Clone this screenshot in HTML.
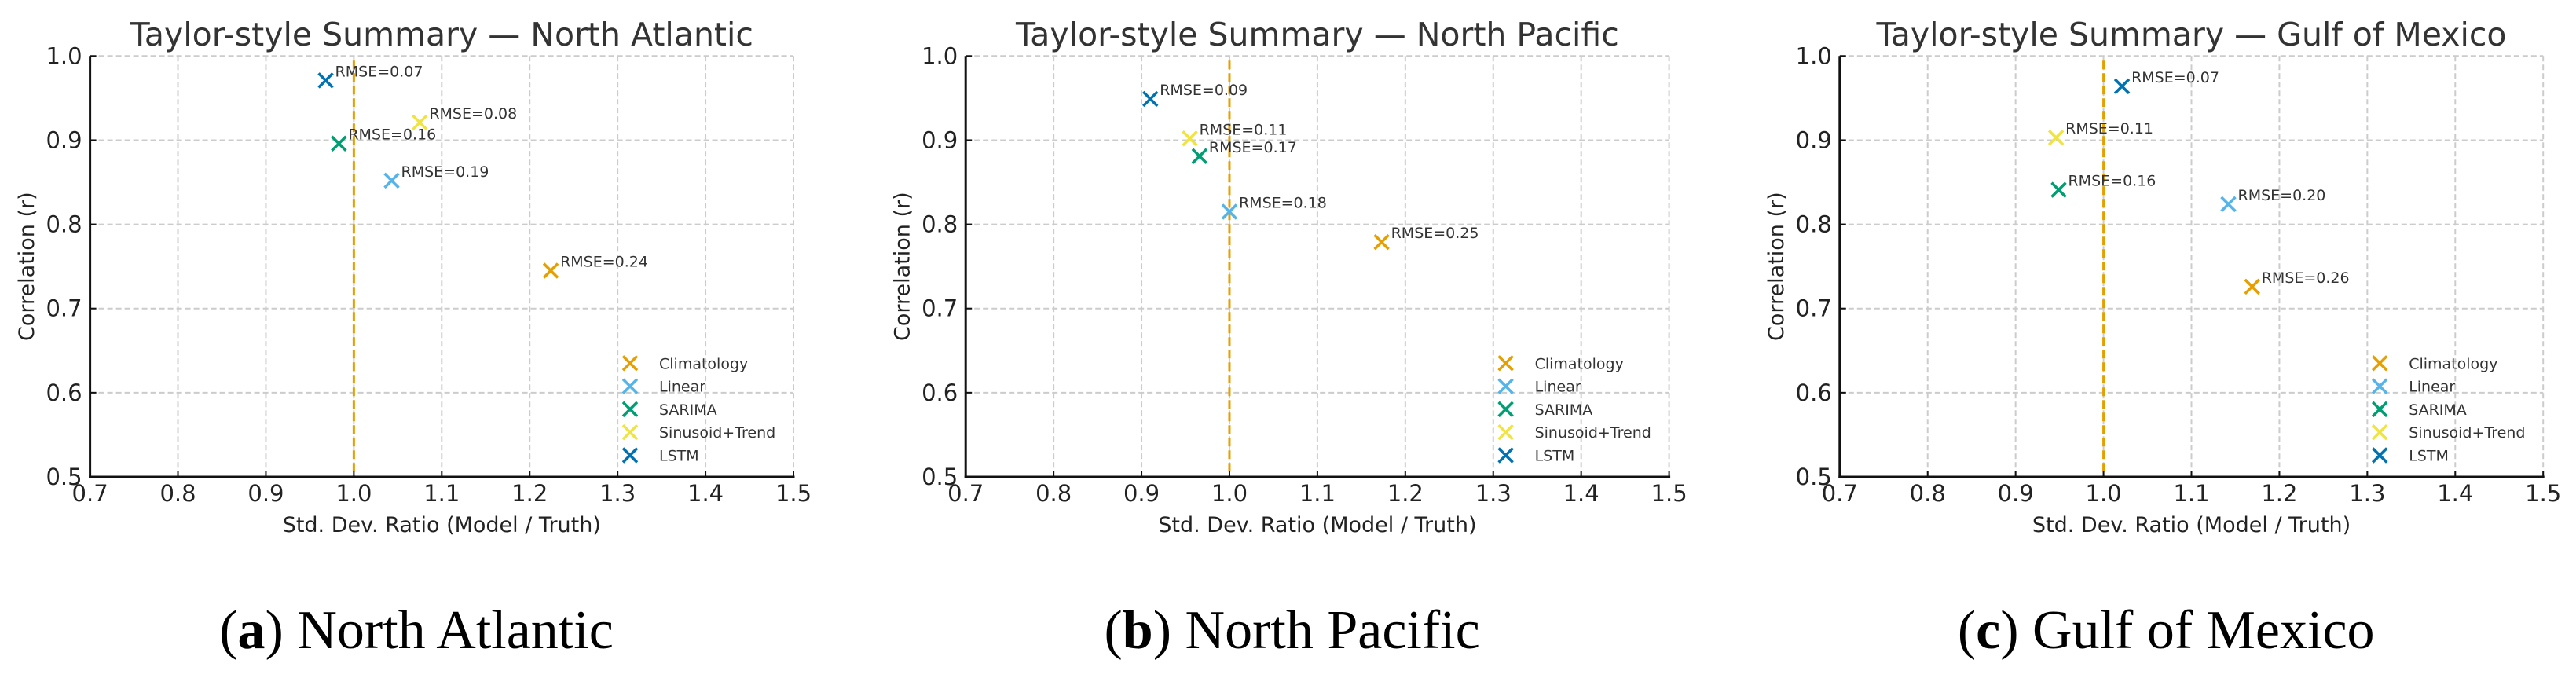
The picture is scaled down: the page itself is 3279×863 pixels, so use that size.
<!DOCTYPE html>
<html><head><meta charset="utf-8">
<style>
html,body{margin:0;padding:0;background:#fff;}
svg{display:block;}
text{font-family:"DejaVu Sans","Liberation Sans",sans-serif;}
.cap{font-family:"Liberation Serif",serif;}
</style></head>
<body>
<svg id="chart" width="3279" height="863" viewBox="0 0 3279 863" xmlns="http://www.w3.org/2000/svg"></svg>
<script>
const models = ["Climatology","Linear","SARIMA","Sinusoid+Trend","LSTM"];
const colors = ["#E69F00","#56B4E9","#009E73","#F0E442","#0072B2"];
const regions = ["North Atlantic","North Pacific","Gulf of Mexico"];
const captionLetters = ["a","b","c"];
const stdA = [1.224,1.043,0.983,1.075,0.968];
const corrA = [0.745,0.852,0.896,0.921,0.971];
const rmseA = ["0.24","0.19","0.16","0.08","0.07"];
const stdB = [1.173,1.000,0.966,0.955,0.910];
const corrB = [0.779,0.815,0.881,0.902,0.949];
const rmseB = ["0.25","0.18","0.17","0.11","0.09"];
const stdC = [1.169,1.142,0.949,0.946,1.021];
const corrC = [0.726,0.824,0.841,0.903,0.964];
const rmseC = ["0.26","0.20","0.16","0.11","0.07"];
const xTicks = [0.7,0.8,0.9,1.0,1.1,1.2,1.3,1.4,1.5];
const yTicks = [0.5,0.6,0.7,0.8,0.9,1.0];

const NS="http://www.w3.org/2000/svg";
const svg=document.getElementById('chart');
function mk(tag,attrs,parent){const e=document.createElementNS(NS,tag);for(const k in attrs)e.setAttribute(k,attrs[k]);(parent||svg).appendChild(e);return e;}

const offsets=[0,1114.6,2227.2];
const stds=[stdA,stdB,stdC], corrs=[corrA,corrB,corrC], rmses=[rmseA,rmseB,rmseC];
const X0=114.6, X1=1010, Y0=607, Y1=71.3;

for(let p=0;p<3;p++){
  const off=offsets[p];
  const g=mk('g',{});
  
  
  const sx=v=>off+X0+(v-0.7)/(1.5-0.7)*(X1-X0);
  const sy=v=>Y0-(v-0.5)/(1.0-0.5)*(Y0-Y1);
  // grid
  xTicks.forEach(t=>{
    const l=mk('line',{x1:sx(t),x2:sx(t),y1:Y1,y2:Y0,stroke:'#cccccc','stroke-width':2,'stroke-dasharray':'7,4'},g);
    
    
  });
  yTicks.forEach(t=>{
    const l=mk('line',{x1:sx(0.7),x2:sx(1.5),y1:sy(t),y2:sy(t),stroke:'#cccccc','stroke-width':2,'stroke-dasharray':'7,4'},g);
    
    
  });
  // reference line
  const ref=mk('line',{x1:sx(1.0),x2:sx(1.0),y1:Y1+6,y2:Y0,stroke:'#E69F00','stroke-width':3,'stroke-dasharray':'11,5'},g);
  
  
  // axes
  const ya=mk('line',{x1:sx(0.7),x2:sx(0.7),y1:Y1,y2:Y0+1.5,stroke:'#111','stroke-width':3},g);
  
  
  const xa=mk('line',{x1:sx(0.7)-1.5,x2:sx(1.5)+1.5,y1:Y0,y2:Y0,stroke:'#111','stroke-width':3},g);
  
  
  xTicks.forEach(t=>{
    mk('line',{x1:sx(t),x2:sx(t),y1:Y0,y2:Y0-8,stroke:'#111','stroke-width':2},g);
    const tx=mk('text',{x:sx(t),y:Y0+31,'font-size':29,'text-anchor':'middle',fill:'#222'},g);
    tx.textContent=t.toFixed(1);
    
    
  });
  yTicks.forEach(t=>{
    mk('line',{x1:sx(0.7),x2:sx(0.7)+8,y1:sy(t),y2:sy(t),stroke:'#111','stroke-width':2},g);
    const tx=mk('text',{x:sx(0.7)-10,y:sy(t)+10,'font-size':29,'text-anchor':'end',fill:'#222'},g);
    tx.textContent=t.toFixed(1);
    
    
  });
  // title
  const ti=mk('text',{x:(sx(0.7)+sx(1.5))/2,y:58,'font-size':41,'text-anchor':'middle',fill:'#333'},g);
  ti.textContent='Taylor-style Summary — '+regions[p];
  
  
  const xl=mk('text',{x:(sx(0.7)+sx(1.5))/2,y:677,'font-size':27,'text-anchor':'middle',fill:'#222'},g);
  xl.textContent='Std. Dev. Ratio (Model / Truth)';
  
  
  const yx=off+43, yy=(Y0+Y1)/2;
  const yl=mk('text',{x:yx,y:yy,'font-size':27,'text-anchor':'middle',fill:'#222',transform:`rotate(-90 ${yx} ${yy})`},g);
  yl.textContent='Correlation (r)';
  
  
  // points
  for(let i=0;i<models.length;i++){
    const cx=sx(stds[p][i]), cy=sy(corrs[p][i]), r=9;
    const pt=mk('path',{d:`M${cx-r},${cy-r}L${cx+r},${cy+r}M${cx-r},${cy+r}L${cx+r},${cy-r}`,stroke:colors[i],'stroke-width':3.5,fill:'none'},g);
    
    
    const lb=mk('text',{x:cx+12,y:cy-5,'font-size':19,fill:'#333'},g);
    lb.textContent='RMSE='+rmses[p][i];
    
    
  }
  // legend
  const lg=mk('g',{},g);
  
  
  for(let i=0;i<models.length;i++){
    const lx=off+802, ly=462.3+i*29.3, r=9;
    const ent=mk('g',{},lg);
    
    
    mk('path',{d:`M${lx-r},${ly-r}L${lx+r},${ly+r}M${lx-r},${ly+r}L${lx+r},${ly-r}`,stroke:colors[i],'stroke-width':3.5,fill:'none'},ent);
    const t=mk('text',{x:off+839,y:ly+7,'font-size':19,fill:'#333'},ent);
    t.textContent=models[i];
  }
  // caption
  const cap=mk('text',{x:off+530,y:825,'font-size':70,'text-anchor':'middle',fill:'#000',class:'cap'},g);
  
  
  const b=document.createElementNS(NS,'tspan');
  cap.appendChild(document.createTextNode('('));
  b.setAttribute('font-weight','bold');
  b.textContent=captionLetters[p];
  cap.appendChild(b);
  cap.appendChild(document.createTextNode(') '+regions[p]));
}
</script>
</body></html>
